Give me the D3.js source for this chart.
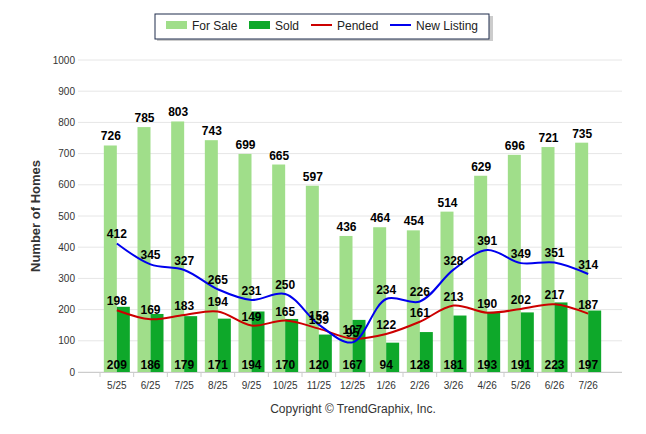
<!DOCTYPE html>
<meta charset="utf-8">
<style>
body { margin: 0; background: #fff; font-family: Arial, "Liberation Sans", sans-serif; }
.grid line { stroke: #e6e6e6; }
.lbl { font-size: 12px; font-weight: bold; fill: #000; text-anchor: middle; }
</style>
<svg width="646" height="434"></svg>
<script src="https://cdnjs.cloudflare.com/ajax/libs/d3/7.8.5/d3.min.js"></script>
<script>
var months = ["5/25","6/25","7/25","8/25","9/25","10/25","11/25","12/25","1/26","2/26","3/26","4/26","5/26","6/26","7/26"];
var forSale = [726,785,803,743,699,665,597,436,464,454,514,629,696,721,735];
var sold = [209,186,179,171,194,170,120,167,94,128,181,193,191,223,197];
var pended = [198,169,183,194,149,165,139,107,122,161,213,190,202,217,187];
var newListing = [412,345,327,265,231,250,152,95,234,226,328,391,349,351,314];
var yTicks = [0,100,200,300,400,500,600,700,800,900,1000];

var svg = d3.select("svg");
var x = d3.scaleBand().domain(months).range([100, 605]);
var y = d3.scaleLinear().domain([0, 1000]).range([372, 60]);
var bw = 13;

svg.append("g").attr("class", "grid").selectAll("line").data(yTicks).enter().append("line")
  .attr("x1", 78).attr("x2", 622).attr("y1", d => y(d)).attr("y2", d => y(d));

svg.append("g").selectAll("text").data(yTicks).enter().append("text")
  .attr("x", 75).attr("y", d => y(d) + 3.5).attr("text-anchor", "end")
  .style("font-size", "10px").style("fill", "#333").text(d => d);

svg.append("text").attr("transform", "translate(40,216) rotate(-90)")
  .attr("text-anchor", "middle").style("font-size", "13px").style("font-weight", "bold")
  .style("fill", "#333").text("Number of Homes");

var xAxis = svg.append("g").attr("transform", "translate(0,372)")
  .call(d3.axisBottom(x).tickSize(5).tickSizeOuter(0));
xAxis.select(".domain").attr("stroke", "#ccc").attr("d", "M78,0.5H622");
xAxis.selectAll(".tick line").attr("stroke", "#ccc").attr("transform", "translate(" + (-x.bandwidth() / 2) + ",0)");
xAxis.selectAll("text").style("font-size", "10px").style("fill", "#333").attr("dy", "0.9em");

var cx = function(i) { return x(months[i]) + x.bandwidth() / 2; };

svg.append("g").selectAll("rect").data(forSale).enter().append("rect")
  .attr("x", (d, i) => cx(i) - bw).attr("width", bw)
  .attr("y", d => y(d)).attr("height", d => y(0) - y(d)).attr("fill", "#a0de8a");
svg.append("g").selectAll("rect").data(sold).enter().append("rect")
  .attr("x", (d, i) => cx(i)).attr("width", bw)
  .attr("y", d => y(d)).attr("height", d => y(0) - y(d)).attr("fill", "#0ea82a");

var line = d3.line().x((d, i) => cx(i)).y(d => y(d)).curve(d3.curveCatmullRom);
svg.append("path").datum(pended).attr("d", line).attr("fill", "none").attr("stroke", "#cc0000").attr("stroke-width", 2);
svg.append("path").datum(newListing).attr("d", line).attr("fill", "none").attr("stroke", "#0000ee").attr("stroke-width", 2);

svg.append("g").selectAll("text").data(forSale).enter().append("text").attr("class", "lbl")
  .attr("x", (d, i) => cx(i) - 6).attr("y", d => y(d) - 5).text(d => d);
svg.append("g").selectAll("text").data(sold).enter().append("text").attr("class", "lbl")
  .attr("x", (d, i) => cx(i)).attr("y", 369).text(d => d);
svg.append("g").selectAll("text").data(pended).enter().append("text").attr("class", "lbl")
  .attr("x", (d, i) => cx(i)).attr("y", d => y(d) - 5).text(d => d);
svg.append("g").selectAll("text").data(newListing).enter().append("text").attr("class", "lbl")
  .attr("x", (d, i) => cx(i)).attr("y", d => y(d) - 5).text(d => d);

// legend
var lg = svg.append("g");
lg.append("rect").attr("x", 157).attr("y", 16).attr("width", 336).attr("height", 25).attr("fill", "#aaa").attr("opacity", 0.6);
lg.append("rect").attr("x", 155).attr("y", 14).attr("width", 334).attr("height", 25).attr("fill", "#fff").attr("stroke", "#1f2d4d");
var items = [
  {name: "For Sale", type: "rect", color: "#a0de8a", x: 166},
  {name: "Sold", type: "rect", color: "#0ea82a", x: 249},
  {name: "Pended", type: "line", color: "#cc0000", x: 311},
  {name: "New Listing", type: "line", color: "#0000ee", x: 390}
];
items.forEach(function(it) {
  if (it.type === "rect") lg.append("rect").attr("x", it.x).attr("y", 21).attr("width", 21).attr("height", 8).attr("fill", it.color);
  else lg.append("line").attr("x1", it.x).attr("x2", it.x + 21).attr("y1", 25).attr("y2", 25).attr("stroke", it.color).attr("stroke-width", 2);
  lg.append("text").attr("x", it.x + 26).attr("y", 30).style("font-size", "12px").style("fill", "#222").text(it.name);
});

svg.append("text").attr("x", 353).attr("y", 413).attr("text-anchor", "middle")
  .style("font-size", "12px").style("fill", "#333").text("Copyright © TrendGraphix, Inc.");
</script>
